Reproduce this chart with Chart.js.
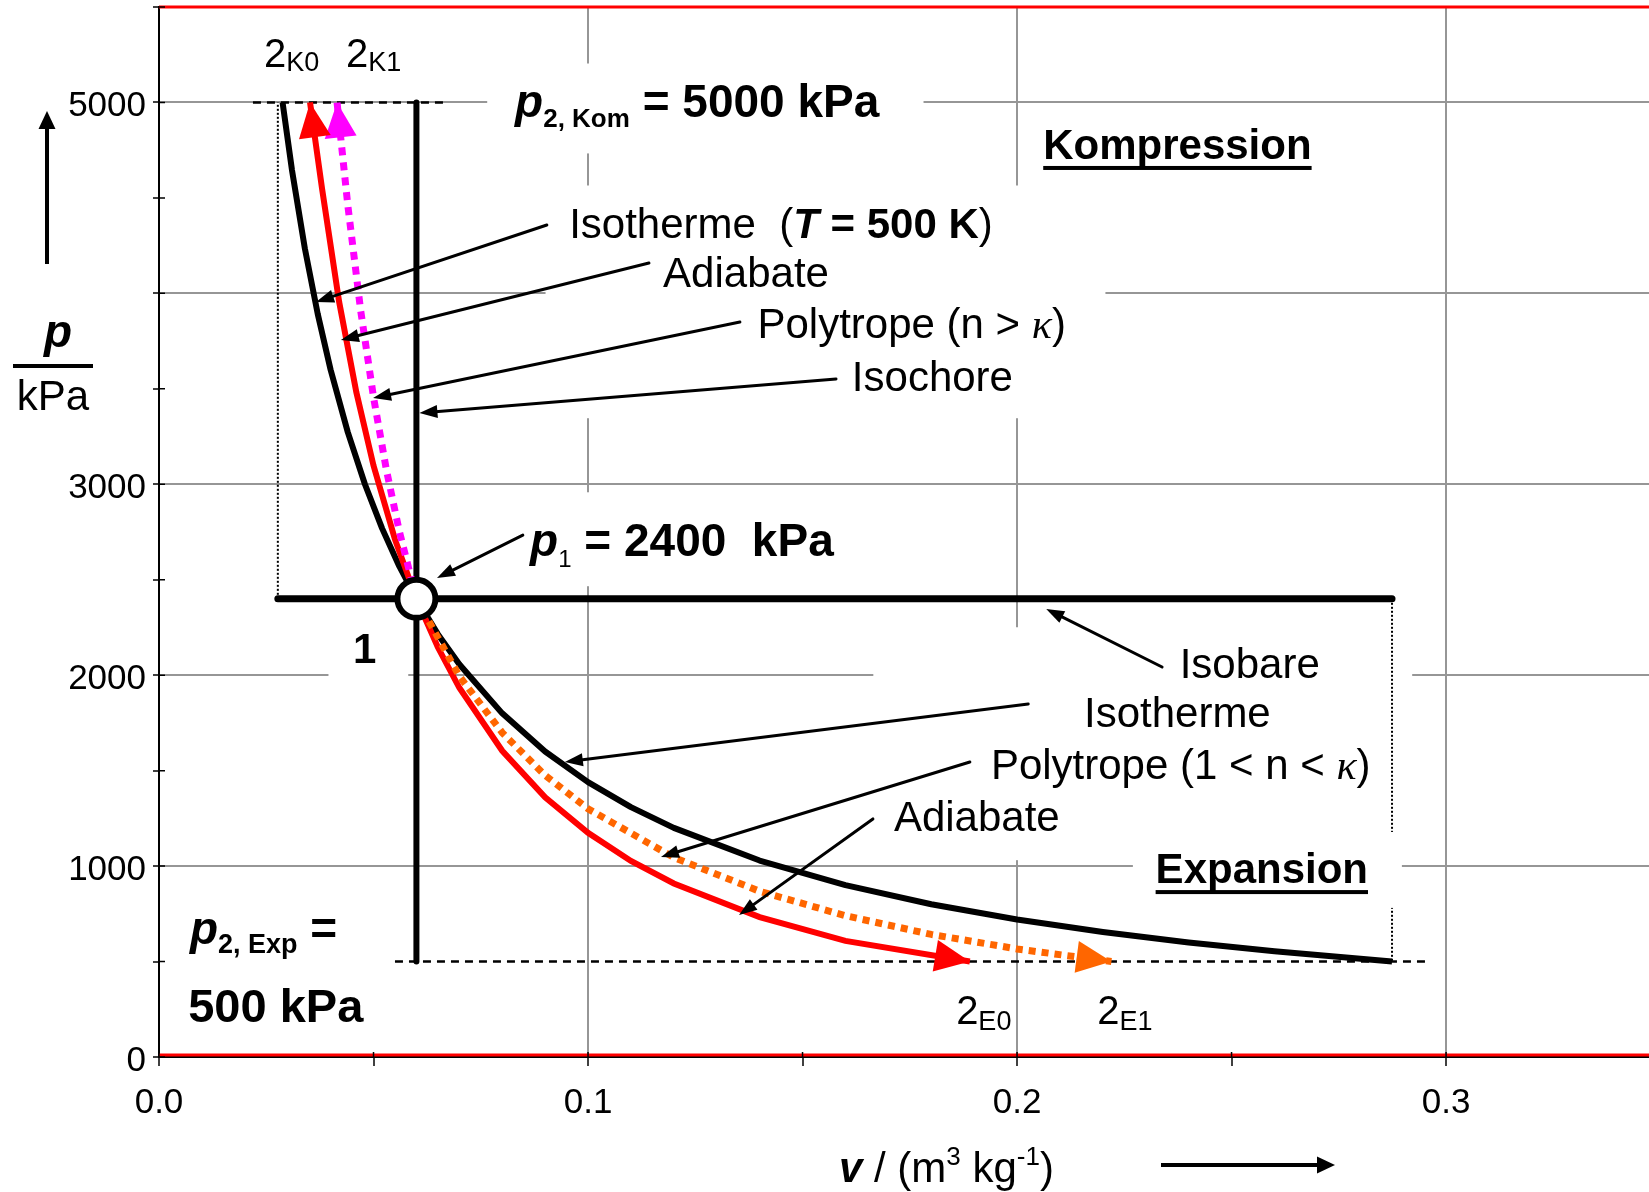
<!DOCTYPE html>
<html lang="de">
<head>
<meta charset="utf-8">
<title>p,v-Diagramm</title>
<script src="https://cdn.jsdelivr.net/npm/chart.js@4.4.1/dist/chart.umd.min.js"></script>
<style>
    html, body { margin: 0; padding: 0; background: #fff; }
    #chartBox { width: 1649px; height: 1192px; position: relative; }
</style>
</head>
<body>
<div id="chartBox"><canvas id="pvChart"></canvas></div>
<script>
// ============================================
// p,v-DIAGRAMM
// Zustandsänderungen ab Punkt 1 (2400 kPa, T = 500 K)
// ============================================

// Isotherme, von 2K0 (5000 kPa) über Punkt 1 bis 500 kPa
const isothermV = [0.0288, 0.031, 0.034, 0.037, 0.040, 0.044, 0.048, 0.052, 0.056, 0.060, 0.065, 0.070, 0.080, 0.090, 0.100, 0.110, 0.120, 0.140, 0.160, 0.180, 0.200, 0.220, 0.240, 0.260, 0.2874];
const isothermP = [5000, 4645, 4235, 3892, 3600, 3273, 3000, 2769, 2571, 2400, 2215, 2057, 1800, 1600, 1440, 1309, 1200, 1029, 900, 800, 720, 655, 600, 554, 500];

// Adiabate: Kompression (1 -> 2K0) und Expansion (1 -> 2E0)
const adiaKomV = [0.060, 0.055, 0.050, 0.046, 0.042, 0.038, 0.0352];
const adiaKomP = [2400, 2711, 3098, 3482, 3954, 4549, 5000];
const adiaExpV = [0.060, 0.065, 0.070, 0.080, 0.090, 0.100, 0.110, 0.120, 0.140, 0.160, 0.189];
const adiaExpP = [2400, 2146, 1934, 1604, 1360, 1174, 1027, 909, 733, 608, 500];

// Polytrope n > kappa (1 -> 2K1) und 1 < n < kappa (1 -> 2E1)
const polyKomV = [0.060, 0.056, 0.053, 0.050, 0.047, 0.044, 0.0415];
const polyKomP = [2400, 2755, 3076, 3456, 3911, 4463, 5000];
const polyExpV = [0.060, 0.070, 0.080, 0.090, 0.100, 0.120, 0.140, 0.160, 0.180, 0.200, 0.222];
const polyExpP = [2400, 1995, 1699, 1475, 1300, 1045, 868, 740, 642, 566, 500];

// Isochore, Isobare, Punkt 1
const isochoreV = [0.060, 0.060];
const isochoreP = [500, 5000];
const isobarV = [0.0277, 0.2874];
const isobarP = [2400, 2400];
const state1V = [0.060];
const state1P = [2400];

// Hilfslinien bei p2,Kom und p2,Exp
const guideKomV = [0.0219, 0.0662];
const guideKomP = [5000, 5000];
const guideExpV = [0.0550, 0.2953];
const guideExpP = [500, 500];
const dropKomV = [0.0277, 0.0277];
const dropKomP = [2400, 5000];
const dropExpV = [0.2874, 0.2874];
const dropExpP = [2400, 500];

// Achsen
const vLabelTicks = [0, 0.1, 0.2, 0.3];
const vGridTicks = [0.1, 0.2, 0.3];
const pLabelTicks = [0, 1000, 2000, 3000, 5000];
const pGridTicks = [1000, 2000, 3000, 4000, 5000];

const FONT = '"Liberation Sans", Arial, Helvetica, sans-serif';
const SERIF = '"Liberation Serif", "Times New Roman", serif';
const f = (size, style) => `${style ? style + ' ' : ''}${size}px ${FONT}`;
const kappa = size => `italic ${size}px ${SERIF}`;

// Beschriftungen im Diagramm (Position: v, p der Grundlinie links)
const labels = [
    { v: 0.0245, p: 5186, runs: [['2', f(40)], ['K0', f(27), 4]] },
    { v: 0.0436, p: 5186, runs: [['2', f(40)], ['K1', f(27), 4]] },
    { v: 0.0830, p: 4924, runs: [['p', f(46, 'italic bold')], ['2, Kom', f(26, 'bold'), 10], [' = 5000 kPa', f(46, 'bold')]] },
    { v: 0.2061, p: 4704, runs: [['Kompression', f(42, 'bold')]], underline: true },
    { v: 0.0956, p: 4290, runs: [['Isotherme  (', f(42)], ['T', f(42, 'italic bold')], [' = 500 K', f(42, 'bold')], [')', f(42)]] },
    { v: 0.1175, p: 4034, runs: [['Adiabate', f(42)]] },
    { v: 0.1395, p: 3766, runs: [['Polytrope (n > ', f(42)], ['κ', kappa(42)], [')', f(42)]] },
    { v: 0.1615, p: 3489, runs: [['Isochore', f(42)]] },
    { v: 0.0865, p: 2624, runs: [['p', f(46, 'italic bold')], ['1', f(24), 11], [' = 2400  kPa', f(46, 'bold')]] },
    { v: 0.0452, p: 2064, runs: [['1', f(42, 'bold')]] },
    { v: 0.2379, p: 1985, runs: [['Isobare', f(42)]] },
    { v: 0.2156, p: 1729, runs: [['Isotherme', f(42)]] },
    { v: 0.1939, p: 1456, runs: [['Polytrope (1 < n < ', f(42)], ['κ', kappa(42)], [')', f(42)]] },
    { v: 0.1713, p: 1184, runs: [['Adiabate', f(42)]] },
    { v: 0.2323, p: 911, runs: [['Expansion', f(42, 'bold')]], underline: true },
    { v: 0.0072, p: 592, runs: [['p', f(46, 'italic bold')], ['2, Exp', f(27, 'bold'), 9], [' =', f(46, 'bold')]] },
    { v: 0.0068, p: 183, runs: [['500 kPa', f(47, 'bold')]] },
    { v: 0.1858, p: 173, runs: [['2', f(40)], ['E0', f(27), 6]] },
    { v: 0.2187, p: 173, runs: [['2', f(40)], ['E1', f(27), 6]] }
];

// Zeigerpfeile: [v Start, p Start, v Spitze, p Spitze]
const pointers = [
    [0.0904, 4358, 0.0366, 3955],
    [0.1142, 4159, 0.0424, 3756],
    [0.1354, 3850, 0.0499, 3452],
    [0.1578, 3552, 0.0607, 3373],
    [0.0848, 2734, 0.0648, 2509],
    [0.2338, 2043, 0.2068, 2347],
    [0.2026, 1849, 0.0946, 1545],
    [0.1890, 1545, 0.1170, 1048],
    [0.1664, 1247, 0.1352, 744]
];

// weiße Textfelder, die das Gitter unterbrechen: [v0, v1, p0, p1]
const underBoxes = [
    [0.0901, 0.2206, 3346, 4565],
    [0.0765, 0.1782, 4733, 5204],
    [0.0820, 0.1635, 2466, 2958],
    [0.0395, 0.0581, 1921, 2314],
    [0.1665, 0.2921, 1031, 2251]
];
const overBoxes = [
    [0.2270, 0.2897, 781, 1179]
];

const pts = (vs, ps) => vs.map((v, i) => ({ x: v, y: ps[i] }));
const round2 = v => Math.round(v * 100) / 100;

function fillBox(chart, b) {
    const { x, y } = chart.scales;
    const x0 = x.getPixelForValue(b[0]), x1 = x.getPixelForValue(b[1]);
    const y0 = y.getPixelForValue(b[3]), y1 = y.getPixelForValue(b[2]);
    chart.ctx.fillRect(x0, y0, x1 - x0, y1 - y0);
}

function drawHead(ctx, fx, fy, tx, ty, len, width) {
    const a = Math.atan2(ty - fy, tx - fx);
    const bx = tx - len * Math.cos(a), by = ty - len * Math.sin(a);
    ctx.beginPath();
    ctx.moveTo(tx, ty);
    ctx.lineTo(bx + width / 2 * Math.sin(a), by - width / 2 * Math.cos(a));
    ctx.lineTo(bx - width / 2 * Math.sin(a), by + width / 2 * Math.cos(a));
    ctx.closePath();
    ctx.fill();
}

function drawArrow(ctx, fx, fy, tx, ty, lw, len, width) {
    const a = Math.atan2(ty - fy, tx - fx);
    ctx.lineWidth = lw;
    ctx.beginPath();
    ctx.moveTo(fx, fy);
    ctx.lineTo(tx - (len - 2) * Math.cos(a), ty - (len - 2) * Math.sin(a));
    ctx.stroke();
    drawHead(ctx, fx, fy, tx, ty, len, width);
}

function drawRuns(ctx, x, y, runs) {
    let cx = x;
    runs.forEach(([text, font, dy]) => {
        ctx.font = font;
        ctx.fillText(text, cx, y + (dy || 0));
        cx += ctx.measureText(text).width;
    });
    return cx;
}

const decorPlugin = {
    id: 'pvDecor',
    beforeDatasetsDraw(chart) {
        const ctx = chart.ctx;
        ctx.save();
        ctx.fillStyle = '#fff';
        underBoxes.forEach(b => fillBox(chart, b));
        ctx.restore();
    },
    afterDatasetsDraw(chart) {
        const { ctx, chartArea: area, scales: { x, y } } = chart;
        ctx.save();

        ctx.fillStyle = '#fff';
        overBoxes.forEach(b => fillBox(chart, b));

        // Pfeilspitzen am Ende der Zustandsänderungen
        chart.data.datasets.forEach((ds, i) => {
            if (!ds.arrow) return;
            const el = chart.getDatasetMeta(i).data;
            const tip = el[el.length - 1], prev = el[el.length - 2];
            ctx.fillStyle = ds.borderColor;
            drawHead(ctx, prev.x, prev.y, tip.x, tip.y, 35, 32);
        });

        // Zeigerpfeile
        ctx.strokeStyle = '#000';
        ctx.fillStyle = '#000';
        ctx.lineCap = 'round';
        pointers.forEach(([v0, p0, v1, p1]) => {
            drawArrow(ctx, x.getPixelForValue(v0), y.getPixelForValue(p0), x.getPixelForValue(v1), y.getPixelForValue(p1), 3, 18, 13);
        });

        // Texte
        ctx.textAlign = 'left';
        ctx.textBaseline = 'alphabetic';
        labels.forEach(l => {
            const lx = x.getPixelForValue(l.v), ly = y.getPixelForValue(l.p);
            const end = drawRuns(ctx, lx, ly, l.runs);
            if (l.underline) ctx.fillRect(lx, ly + 7, end - lx, 4);
        });

        // Rahmen: rote Linie oben und an der Abszisse
        ctx.lineCap = 'butt';
        ctx.strokeStyle = '#ff0000';
        ctx.lineWidth = 3;
        ctx.beginPath();
        ctx.moveTo(area.left, area.top);
        ctx.lineTo(area.right, area.top);
        ctx.moveTo(area.left, area.bottom - 2);
        ctx.lineTo(area.right, area.bottom - 2);
        ctx.stroke();

        // Teilstriche ins Diagramm hinein
        ctx.strokeStyle = '#000';
        ctx.lineWidth = 1.5;
        ctx.beginPath();
        y.ticks.forEach(t => {
            const py = y.getPixelForValue(t.value);
            ctx.moveTo(area.left, py);
            ctx.lineTo(area.left + 6, py);
        });
        x.ticks.forEach(t => {
            const px = x.getPixelForValue(t.value);
            ctx.moveTo(px, area.bottom);
            ctx.lineTo(px, area.bottom - 5);
        });
        ctx.stroke();

        // Achsentitel p / kPa
        ctx.fillStyle = '#000';
        ctx.textAlign = 'center';
        ctx.font = f(46, 'italic bold');
        ctx.fillText('p', 58, 347);
        ctx.fillRect(13, 364, 80, 4);
        ctx.font = f(42);
        ctx.fillText('kPa', 53, 410);
        ctx.strokeStyle = '#000';
        drawArrow(ctx, 47, 264, 47, 111, 4, 18, 17);

        // Achsentitel v / (m3 kg-1)
        ctx.textAlign = 'left';
        drawRuns(ctx, 839, 1182, [
            ['v', f(42, 'italic bold')], [' / (m', f(42)], ['3', f(26), -17],
            [' kg', f(42)], ['-1', f(26), -17], [')', f(42)]
        ]);
        drawArrow(ctx, 1161, 1165, 1335, 1165, 4, 18, 17);

        ctx.restore();
    }
};

const gray = '#969696';
const none = 'rgba(0,0,0,0)';

const pvChart = new Chart(document.getElementById('pvChart'), {
    type: 'scatter',
    data: {
        datasets: [
            { label: 'Zustand 1', data: pts(state1V, state1P), pointRadius: 19, pointHoverRadius: 19, pointBorderWidth: 6, pointBackgroundColor: '#fff', pointBorderColor: '#000', order: 0 },
            { label: 'Polytrope (n > κ)', data: pts(polyKomV, polyKomP), showLine: true, borderColor: '#ff00ff', borderWidth: 7, borderDash: [8, 7], pointRadius: 0, arrow: true, order: 1 },
            { label: 'Polytrope (1 < n < κ)', data: pts(polyExpV, polyExpP), showLine: true, borderColor: '#ff6600', borderWidth: 7, borderDash: [7, 6], pointRadius: 0, arrow: true, order: 1 },
            { label: 'Adiabate Kompression', data: pts(adiaKomV, adiaKomP), showLine: true, borderColor: '#ff0000', borderWidth: 6, pointRadius: 0, arrow: true, order: 2 },
            { label: 'Adiabate Expansion', data: pts(adiaExpV, adiaExpP), showLine: true, borderColor: '#ff0000', borderWidth: 6, pointRadius: 0, arrow: true, order: 2 },
            { label: 'Isotherme', data: pts(isothermV, isothermP), showLine: true, borderColor: '#000', borderWidth: 6, borderJoinStyle: 'round', pointRadius: 0, order: 3 },
            { label: 'Isochore', data: pts(isochoreV, isochoreP), showLine: true, borderColor: '#000', borderWidth: 6, borderCapStyle: 'round', pointRadius: 0, order: 4 },
            { label: 'Isobare', data: pts(isobarV, isobarP), showLine: true, borderColor: '#000', borderWidth: 7, borderCapStyle: 'round', pointRadius: 0, order: 4 },
            { label: 'p2,Kom', data: pts(guideKomV, guideKomP), showLine: true, borderColor: '#000', borderWidth: 2.5, borderDash: [8, 6], pointRadius: 0, order: 5 },
            { label: 'p2,Exp', data: pts(guideExpV, guideExpP), showLine: true, borderColor: '#000', borderWidth: 2.5, borderDash: [8, 6], pointRadius: 0, order: 5 },
            { label: 'v 2K0', data: pts(dropKomV, dropKomP), showLine: true, borderColor: '#000', borderWidth: 2, borderDash: [2, 2], pointRadius: 0, order: 5 },
            { label: 'v 2E', data: pts(dropExpV, dropExpP), showLine: true, borderColor: '#000', borderWidth: 2, borderDash: [2, 2], pointRadius: 0, order: 5 }
        ]
    },
    options: {
        responsive: true,
        maintainAspectRatio: false,
        animation: false,
        events: [],
        devicePixelRatio: 1,
        layout: { autoPadding: false, padding: { top: 7, right: 0, bottom: 0, left: 0 } },
        plugins: { legend: { display: false }, tooltip: { enabled: false } },
        scales: {
            x: {
                type: 'linear',
                min: 0,
                max: 0.3473,
                afterFit: s => { s.height = 135; s.paddingLeft = 0; s.paddingRight = 0; },
                border: { color: '#000', width: 2 },
                grid: {
                    color: c => (c.tick && vGridTicks.includes(round2(c.tick.value))) ? gray : none,
                    lineWidth: 2,
                    tickColor: '#000',
                    tickWidth: 1.5,
                    tickLength: 9
                },
                ticks: {
                    stepSize: 0.05,
                    includeBounds: false,
                    maxRotation: 0,
                    autoSkip: false,
                    padding: 16,
                    color: '#000',
                    font: { family: FONT, size: 35 },
                    callback: v => vLabelTicks.includes(round2(v)) ? round2(v).toFixed(1) : ''
                }
            },
            y: {
                type: 'linear',
                min: 0,
                max: 5500,
                afterFit: s => { s.width = 159; s.paddingTop = 0; s.paddingBottom = 0; },
                border: { color: '#000', width: 2 },
                grid: {
                    color: c => (c.tick && pGridTicks.includes(c.tick.value)) ? gray : none,
                    lineWidth: 2,
                    tickColor: '#000',
                    tickWidth: 1.5,
                    tickLength: 6
                },
                ticks: {
                    stepSize: 500,
                    autoSkip: false,
                    padding: 7,
                    labelOffset: 4,
                    color: '#000',
                    font: { family: FONT, size: 35 },
                    callback: v => pLabelTicks.includes(v) ? String(v) : ''
                }
            }
        }
    },
    plugins: [decorPlugin]
});
</script>
</body>
</html>
